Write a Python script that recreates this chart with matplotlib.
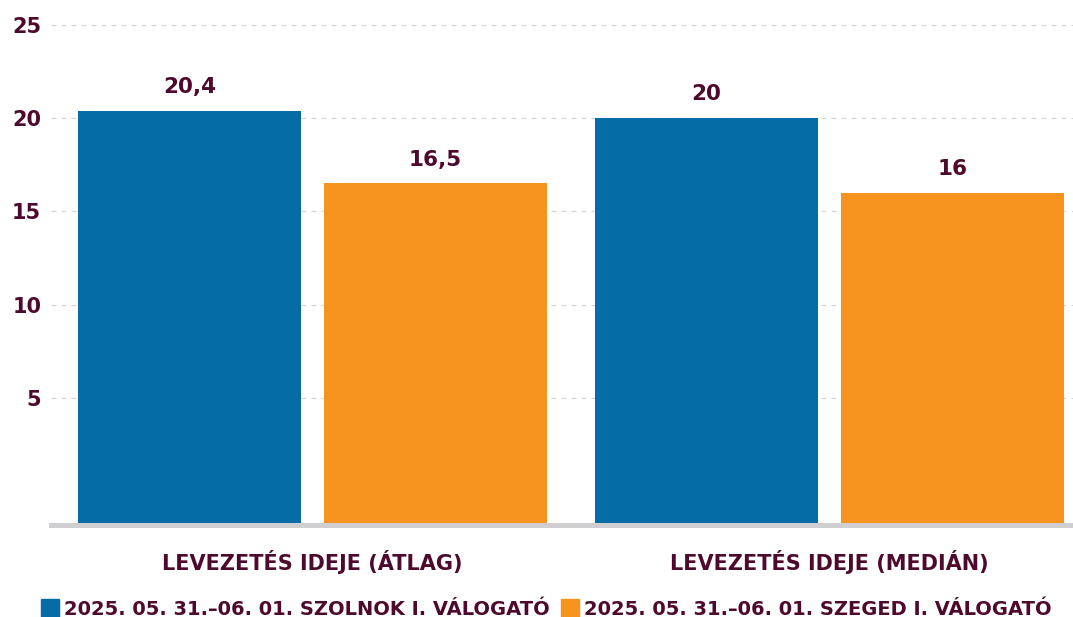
"""
Levezetés ideje - Szolnok vs Szeged válogató
"""
import matplotlib

matplotlib.use("Agg")
import matplotlib.pyplot as plt
import numpy as np
from matplotlib.patches import Rectangle

# data
categories = ["LEVEZETÉS IDEJE (ÁTLAG)", "LEVEZETÉS IDEJE (MEDIÁN)"]
series_names = [
    "2025. 05. 31.–06. 01. SZOLNOK I. VÁLOGATÓ",
    "2025. 05. 31.–06. 01. SZEGED I. VÁLOGATÓ",
]
szolnok = [20.4, 20]
szeged = [16.5, 16]
value_labels = [["20,4", "20"], ["16,5", "16"]]
yticks = [5, 10, 15, 20, 25]

colors = ["#056ca6", "#f6941f"]
text_color = "#4e0a2c"
plt.rcParams["font.family"] = ["DejaVu Sans"]


def main():
    fig = plt.figure(figsize=(10.73, 6.17), dpi=100, facecolor="white")
    ax = fig.add_axes([0.0475, 0.1499, 0.9525, 0.8501])

    ymin = -1.79  # axis starts a bit below zero, bars grow from the baseline
    x = np.arange(len(categories))
    width = 0.431
    offset = 0.238

    for i, vals in enumerate([szolnok, szeged]):
        pos = x + (i * 2 - 1) * offset
        heights = np.array(vals) - ymin
        ax.bar(pos, heights, width, bottom=ymin, color=colors[i], zorder=3)
        for p, v, lab in zip(pos, vals, value_labels[i]):
            ax.annotate(
                lab,
                (p, v),
                xytext=(0, 10),
                textcoords="offset points",
                ha="center",
                va="bottom",
                fontsize=15.5,
                fontweight="bold",
                color=text_color,
            )

    ax.set_xlim(-0.506, 1.471)
    ax.set_ylim(ymin, 26.34)

    # grid
    ax.set_yticks(yticks)
    ax.set_yticklabels([str(t) for t in yticks])
    ax.yaxis.grid(True, linestyle=(0, (4, 4)), color="#d6d6d6", linewidth=0.9, zorder=0)
    ax.tick_params(axis="y", length=0, pad=7, labelsize=15, labelcolor=text_color)
    for lab in ax.get_yticklabels():
        lab.set_fontweight("bold")

    ax.set_xticks(x)
    ax.set_xticklabels(categories)
    ax.tick_params(axis="x", length=0, pad=18, labelsize=15, labelcolor=text_color)
    for lab in ax.get_xticklabels():
        lab.set_fontweight("bold")

    for s in ax.spines.values():
        s.set_visible(False)
    ax.axhline(ymin, color="#cfcfd2", linewidth=3.6, zorder=4, clip_on=False)

    # legend at bottom (partly cut off like the original)
    handles = [Rectangle((0, 0), 1, 1, color=c) for c in colors]
    fig.legend(
        handles,
        series_names,
        loc="center left",
        bbox_to_anchor=(0.029, 0.013),
        ncol=2,
        frameon=False,
        handlelength=0.95,
        handleheight=1.0,
        handletextpad=0.25,
        columnspacing=0.55,
        prop={"size": 14, "weight": "bold"},
        labelcolor=text_color,
        borderpad=0,
    )

    fig.savefig("out.png", dpi=100, facecolor="white")


if __name__ == "__main__":
    main()
